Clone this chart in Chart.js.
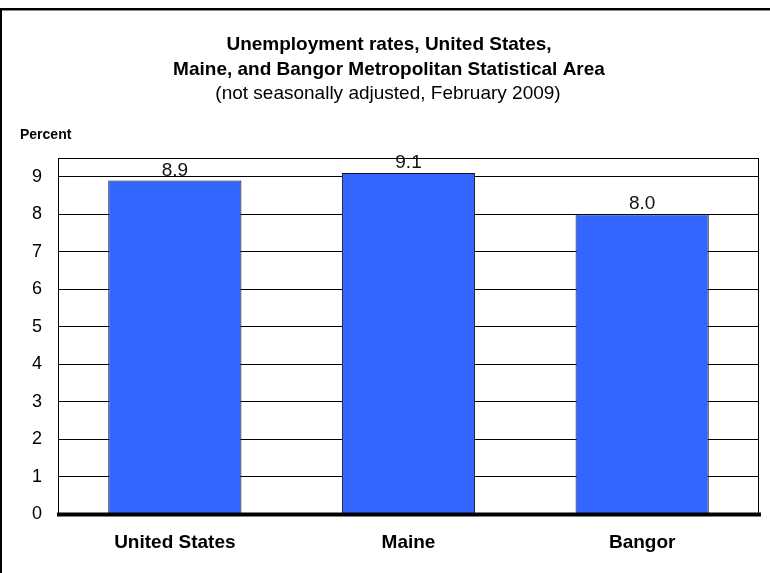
<!DOCTYPE html>
<html>
<head>
<meta charset="utf-8">
<script src="https://cdn.jsdelivr.net/npm/chart.js"></script>
<style>
  html, body { margin: 0; padding: 0; background: #fff; }
  #wrap { width: 770px; height: 573px; }
</style>
</head>
<body>
<div id="wrap"><canvas id="grafico" width="770" height="573"></canvas></div>
<script>
// --- Datos ---
const categorias = ["United States", "Maine", "Bangor"];
const tasas = [8.9, 9.1, 8.0];
const marcasY = [0, 1, 2, 3, 4, 5, 6, 7, 8, 9];
const titulos = ["Unemployment rates, United States,", "Maine, and Bangor Metropolitan Statistical Area"];
const subtitulo = "(not seasonally adjusted, February 2009)";
const etiquetaEje = "Percent";

const FUENTE = "'Liberation Sans', Arial, sans-serif";

// --- Plugin: marco, títulos, borde del área, línea cero y etiquetas ---
const decoracion = {
    id: "decoracion",
    beforeDraw(chart) {
        const ctx = chart.ctx;
        ctx.save();
        ctx.fillStyle = "#000";
        ctx.fillRect(0, 8, 770, 2);
        ctx.fillRect(0, 8, 2, 565);
        ctx.fillStyle = "#888";
        ctx.fillRect(2, 10, 768, 1);

        ctx.fillStyle = "#000";
        ctx.textAlign = "center";
        ctx.textBaseline = "alphabetic";
        ctx.font = "bold 19px " + FUENTE;
        ctx.fillText(titulos[0], 389, 50);
        ctx.fillText(titulos[1], 389, 74.5);
        ctx.font = "19px " + FUENTE;
        ctx.fillText(subtitulo, 388, 99);

        ctx.textAlign = "left";
        ctx.font = "bold 14px " + FUENTE;
        ctx.fillText(etiquetaEje, 20, 138.5);
        ctx.restore();
    },
    afterDatasetsDraw(chart) {
        const ctx = chart.ctx;
        const area = chart.chartArea;
        const y = chart.scales.y;
        ctx.save();
        ctx.strokeStyle = "#000";
        ctx.lineWidth = 1;
        ctx.strokeRect(area.left + 0.5, area.top + 0.5, area.right - area.left - 1, area.bottom - area.top);

        const y0 = y.getPixelForValue(0);
        ctx.lineWidth = 4;
        ctx.beginPath();
        ctx.moveTo(area.left - 1, y0);
        ctx.lineTo(area.right + 2, y0);
        ctx.stroke();

        ctx.fillStyle = "#111";
        ctx.font = "19px " + FUENTE;
        ctx.textAlign = "center";
        ctx.textBaseline = "alphabetic";
        chart.getDatasetMeta(0).data.forEach((barra, i) => {
            ctx.fillText(tasas[i].toFixed(1), barra.x, barra.y - 5);
        });
        ctx.restore();
    }
};

new Chart(document.getElementById("grafico"), {
    type: "bar",
    data: {
        labels: categorias,
        datasets: [{
            data: tasas,
            backgroundColor: "#3366FF",
            borderColor: "#111",
            borderWidth: 1,
            barPercentage: 0.57,
            categoryPercentage: 1
        }]
    },
    options: {
        responsive: false,
        animation: false,
        devicePixelRatio: 1,
        layout: { padding: { top: 158, right: 11, bottom: 0, left: 0 } },
        plugins: {
            legend: { display: false },
            title: { display: false },
            tooltip: { enabled: false }
        },
        scales: {
            x: {
                grid: { display: false, drawTicks: false },
                border: { display: false },
                ticks: {
                    color: "#000",
                    padding: 17,
                    font: { family: FUENTE, size: 19, weight: "bold" }
                },
                afterFit(escala) { escala.height = 58.5; }
            },
            y: {
                min: 0,
                max: 9.5,
                afterBuildTicks(escala) {
                    escala.ticks = marcasY.map(v => ({ value: v }));
                },
                grid: { color: "#000", lineWidth: 1, drawTicks: false },
                border: { display: true, color: "#000", width: 1 },
                ticks: {
                    color: "#000",
                    padding: 16,
                    font: { family: FUENTE, size: 18 }
                },
                afterFit(escala) { escala.width = 58; }
            }
        }
    },
    plugins: [decoracion]
});
</script>
</body>
</html>
